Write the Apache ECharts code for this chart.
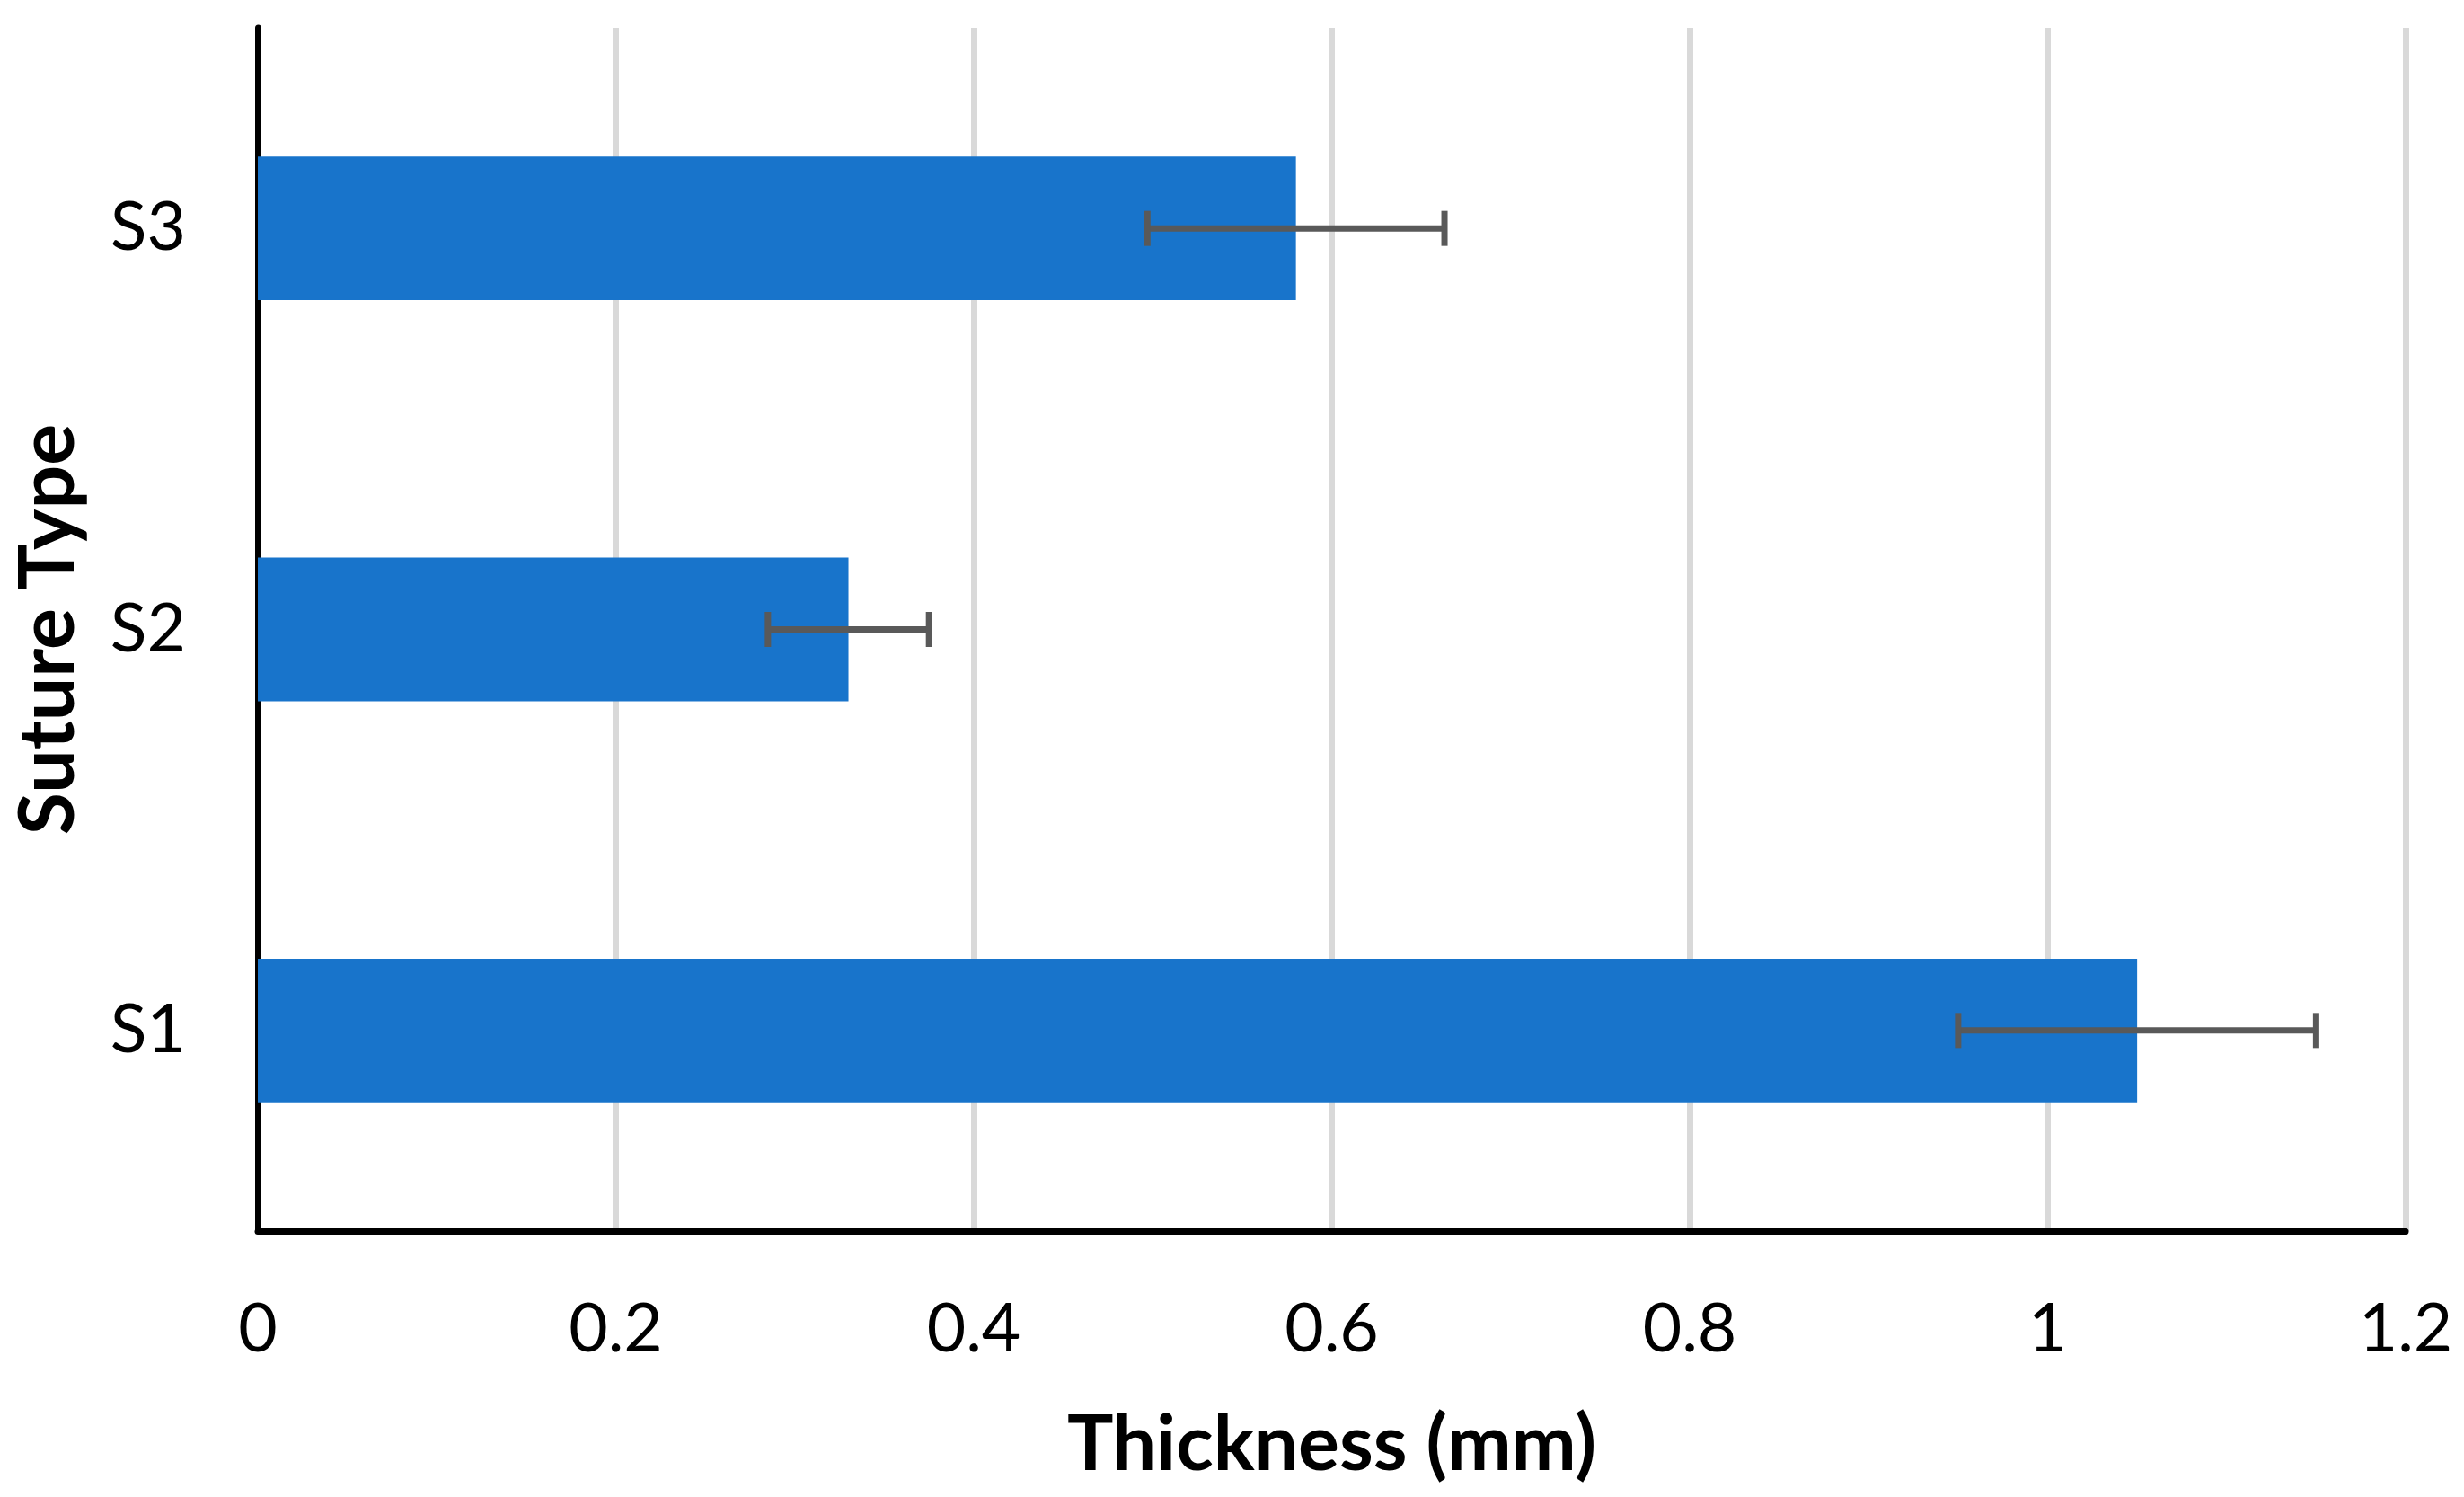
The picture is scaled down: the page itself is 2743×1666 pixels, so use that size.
<!DOCTYPE html>
<html>
<head>
<meta charset="utf-8">
<script src="https://cdn.jsdelivr.net/npm/echarts@6/dist/echarts.min.js"></script>
<style>
html,body{margin:0;padding:0;background:#fff;}
#c{width:2743px;height:1666px;}
</style>
</head>
<body>
<div id="c"></div>
<script>
// Data
var categories = ['S1', 'S2', 'S3'];
var thickness = [1.05, 0.33, 0.58];
var errors = [0.10, 0.045, 0.083];
var xTicks = [0, 0.2, 0.4, 0.6, 0.8, 1, 1.2];
var xAxisTitle = 'Thickness (mm)';
var yAxisTitle = 'Suture Type';

var FONT = 'Lato';
var chart = echarts.init(document.getElementById('c'), null, {renderer: 'canvas'});

var errData = categories.map(function (c, i) {
  return [i, thickness[i] - errors[i], thickness[i] + errors[i]];
});

var option = {
  backgroundColor: '#ffffff',
  animation: false,
  grid: {left: 287, right: 65, top: 31, bottom: 296, containLabel: false},
  xAxis: {
    type: 'value',
    min: xTicks[0],
    max: xTicks[xTicks.length - 1],
    interval: 0.2,
    name: xAxisTitle,
    nameLocation: 'middle',
    nameGap: 195,
    nameTextStyle: {fontFamily: FONT, fontWeight: 'bold', fontSize: 86, color: '#000'},
    axisLine: {show: true, lineStyle: {color: '#000', width: 7}},
    axisTick: {show: false},
    axisLabel: {fontFamily: FONT, fontSize: 75, color: '#000', margin: 72},
    splitLine: {show: true, lineStyle: {color: '#d9d9d9', width: 7}}
  },
  yAxis: {
    type: 'category',
    data: categories,
    name: yAxisTitle,
    nameLocation: 'middle',
    nameRotate: 90,
    nameGap: 190,
    nameTextStyle: {fontFamily: FONT, fontWeight: 'bold', fontSize: 86, color: '#000'},
    axisLine: {show: true, lineStyle: {color: '#000', width: 7}},
    axisTick: {show: false},
    axisLabel: {fontFamily: FONT, fontSize: 75, color: '#000', margin: 80},
    splitLine: {show: false}
  },
  series: [
    {
      type: 'bar',
      data: thickness,
      barWidth: '35.8%',
      itemStyle: {color: '#1874CB'},
      z: 2
    },
    {
      type: 'custom',
      data: errData,
      z: 5,
      renderItem: function (params, api) {
        var cat = api.value(0);
        var lo = api.coord([api.value(1), cat]);
        var hi = api.coord([api.value(2), cat]);
        var half = 19.5;
        var style = {stroke: '#595959', lineWidth: 7};
        return {
          type: 'group',
          children: [
            {type: 'line', shape: {x1: lo[0], y1: lo[1], x2: hi[0], y2: hi[1]}, style: style},
            {type: 'line', shape: {x1: lo[0], y1: lo[1] - half, x2: lo[0], y2: lo[1] + half}, style: style},
            {type: 'line', shape: {x1: hi[0], y1: hi[1] - half, x2: hi[0], y2: hi[1] + half}, style: style}
          ]
        };
      },
      encode: {x: [1, 2], y: 0}
    }
  ]
};
chart.setOption(option);
</script>
</body>
</html>
